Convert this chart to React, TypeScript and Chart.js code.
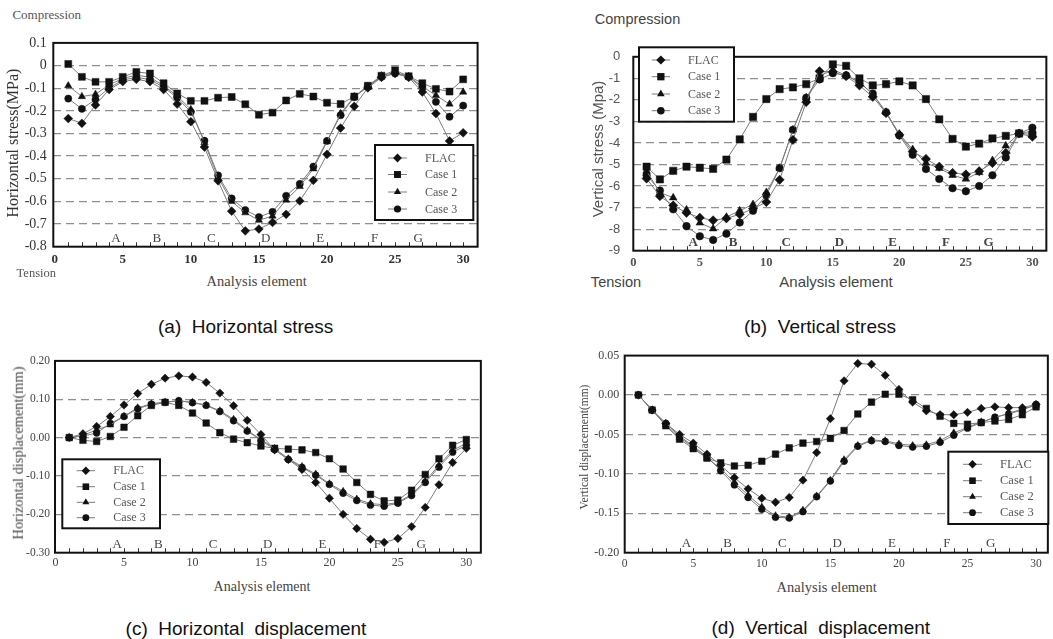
import React, { useEffect, useRef } from 'react';
import { Chart, registerables } from 'chart.js';

Chart.register(...registerables);

// ---------------- DATA ----------------
const elements = [1, 2, 3, 4, 5, 6, 7, 8, 9, 10, 11, 12, 13, 14, 15, 16, 17, 18, 19, 20, 21, 22, 23, 24, 25, 26, 27, 28, 29, 30];
const seriesNames = ['FLAC', 'Case 1', 'Case 2', 'Case 3'];
const xTickValues = [0, 5, 10, 15, 20, 25, 30];
const zoneLetters = ['A', 'B', 'C', 'D', 'E', 'F', 'G'];
const zonePositions = [4.5, 7.5, 11.5, 15.5, 19.5, 23.5, 26.7];

// (a) Horizontal stress (MPa)
const hStressFLAC = [-0.234, -0.255, -0.174, -0.106, -0.071, -0.061, -0.071, -0.106, -0.170, -0.248, -0.360, -0.509, -0.643, -0.730, -0.722, -0.693, -0.657, -0.598, -0.507, -0.392, -0.276, -0.180, -0.099, -0.052, -0.035, -0.052, -0.117, -0.212, -0.333, -0.297];
const hStressCase1 = [0.007, -0.050, -0.072, -0.072, -0.050, -0.028, -0.035, -0.078, -0.123, -0.156, -0.156, -0.142, -0.139, -0.171, -0.217, -0.208, -0.154, -0.125, -0.137, -0.164, -0.170, -0.137, -0.089, -0.045, -0.021, -0.047, -0.078, -0.103, -0.115, -0.061];
const hStressCase2 = [-0.089, -0.137, -0.127, -0.085, -0.057, -0.042, -0.052, -0.089, -0.134, -0.194, -0.340, -0.495, -0.600, -0.650, -0.683, -0.665, -0.594, -0.534, -0.456, -0.336, -0.212, -0.137, -0.095, -0.045, -0.030, -0.048, -0.092, -0.132, -0.170, -0.117];
const hStressCase3 = [-0.146, -0.191, -0.150, -0.099, -0.064, -0.052, -0.062, -0.096, -0.142, -0.205, -0.332, -0.485, -0.587, -0.638, -0.669, -0.646, -0.575, -0.523, -0.446, -0.333, -0.219, -0.140, -0.092, -0.050, -0.035, -0.050, -0.099, -0.160, -0.226, -0.177];
const hStressTicks = [0.1, 0, -0.1, -0.2, -0.3, -0.4, -0.5, -0.6, -0.7, -0.8];
const hStressTickLabels = ['0.1', '0', '-0.1', '-0.2', '-0.3', '-0.4', '-0.5', '-0.6', '-0.7', '-0.8'];

// (b) Vertical stress (MPa)
const vStressFLAC = [-5.65, -6.47, -6.90, -7.24, -7.47, -7.59, -7.50, -7.31, -7.05, -6.74, -5.71, -3.86, -2.10, -0.67, -0.70, -0.90, -1.33, -1.86, -2.61, -3.62, -4.40, -4.74, -5.10, -5.39, -5.46, -5.31, -4.93, -4.46, -3.56, -3.71];
const vStressCase1 = [-5.10, -5.69, -5.29, -5.10, -5.15, -5.20, -4.77, -3.83, -2.79, -1.96, -1.50, -1.42, -1.27, -1.00, -0.35, -0.42, -1.00, -1.33, -1.27, -1.14, -1.33, -1.96, -2.90, -3.81, -4.17, -4.03, -3.79, -3.67, -3.56, -3.60];
const vStressCase2 = [-5.30, -6.30, -6.54, -7.10, -7.71, -7.98, -7.44, -7.14, -6.85, -6.29, -5.17, -3.39, -1.90, -0.90, -0.60, -0.86, -1.15, -1.75, -2.57, -3.58, -4.30, -4.93, -5.17, -5.50, -5.67, -5.37, -4.81, -4.13, -3.56, -3.45];
const vStressCase3 = [-5.50, -6.21, -7.08, -7.86, -8.33, -8.50, -8.21, -7.69, -7.15, -6.43, -5.17, -3.39, -1.90, -1.05, -0.76, -0.86, -1.21, -1.71, -2.57, -3.65, -4.55, -5.21, -5.67, -6.10, -6.24, -6.00, -5.50, -4.67, -3.56, -3.29];
const vStressTicks = [0, -1, -2, -3, -4, -5, -6, -7, -8, -9];
const vStressTickLabels = ['0', '-1', '-2', '-3', '-4', '-5', '-6', '-7', '-8', '-9'];

// (c) Horizontal displacement (mm)
const hDispFLAC = [0, 0.010, 0.029, 0.055, 0.085, 0.115, 0.139, 0.155, 0.161, 0.158, 0.144, 0.116, 0.083, 0.045, 0.008, -0.032, -0.057, -0.083, -0.117, -0.158, -0.200, -0.237, -0.265, -0.273, -0.263, -0.232, -0.182, -0.123, -0.065, -0.028];
const hDispCase1 = [0, -0.007, -0.010, 0.003, 0.027, 0.057, 0.084, 0.092, 0.084, 0.064, 0.038, 0.013, -0.004, -0.013, -0.022, -0.028, -0.030, -0.032, -0.039, -0.055, -0.082, -0.117, -0.148, -0.165, -0.163, -0.137, -0.096, -0.055, -0.020, -0.005];
const hDispCase2 = [0, 0.006, 0.020, 0.033, 0.056, 0.078, 0.088, 0.093, 0.096, 0.092, 0.085, 0.070, 0.048, 0.019, -0.005, -0.028, -0.055, -0.075, -0.095, -0.120, -0.140, -0.160, -0.172, -0.175, -0.169, -0.148, -0.113, -0.072, -0.033, -0.015];
const hDispCase3 = [0, 0.004, 0.012, 0.037, 0.055, 0.075, 0.087, 0.092, 0.096, 0.091, 0.084, 0.068, 0.044, 0.017, -0.007, -0.031, -0.057, -0.078, -0.098, -0.122, -0.145, -0.164, -0.176, -0.179, -0.171, -0.151, -0.117, -0.077, -0.038, -0.020];
const hDispTicks = [0.2, 0.1, 0, -0.1, -0.2, -0.3];
const hDispTickLabels = ['0.20', '0.10', '0.00', '-0.10', '-0.20', '-0.30'];

// (d) Vertical displacement (mm)
const vDispFLAC = [0, -0.019, -0.036, -0.050, -0.061, -0.075, -0.089, -0.105, -0.119, -0.131, -0.136, -0.130, -0.108, -0.073, -0.030, 0.018, 0.040, 0.039, 0.025, 0.007, -0.009, -0.020, -0.025, -0.025, -0.022, -0.017, -0.015, -0.016, -0.016, -0.012];
const vDispCase1 = [0, -0.019, -0.039, -0.056, -0.068, -0.080, -0.086, -0.090, -0.089, -0.084, -0.075, -0.067, -0.061, -0.059, -0.055, -0.045, -0.024, -0.009, 0.001, 0.001, -0.006, -0.017, -0.027, -0.036, -0.037, -0.035, -0.033, -0.031, -0.025, -0.015];
const vDispCase2 = [0, -0.019, -0.038, -0.054, -0.066, -0.080, -0.093, -0.111, -0.127, -0.142, -0.153, -0.155, -0.146, -0.128, -0.108, -0.082, -0.064, -0.057, -0.058, -0.062, -0.064, -0.063, -0.058, -0.048, -0.041, -0.034, -0.029, -0.023, -0.018, -0.013];
const vDispCase3 = [0, -0.019, -0.036, -0.052, -0.065, -0.078, -0.096, -0.114, -0.130, -0.145, -0.155, -0.156, -0.148, -0.129, -0.109, -0.084, -0.065, -0.058, -0.059, -0.064, -0.066, -0.065, -0.060, -0.051, -0.042, -0.035, -0.028, -0.024, -0.019, -0.012];
const vDispTicks = [0.05, 0, -0.05, -0.1, -0.15, -0.2];
const vDispTickLabels = ['0.05', '0.00', '-0.05', '-0.10', '-0.15', '-0.20'];

// ---------------- STYLE / LAYOUT ----------------
const pointStyles = ['rectRot', 'rect', 'triangle', 'circle'];
const pointRadii = [4.4, 4.9, 4.2, 3.6];
const LINE = '#7c7c7c';
const MARK = '#111111';
const GRID = '#8e8e8e';
const SERIF = "'Liberation Serif', 'DejaVu Serif', serif";
const SANS = "'Liberation Sans', Arial, sans-serif";

type Spec = {
  id: string;
  canvas: { x: number; y: number; w: number; h: number };
  plot: { L: number; T: number; R: number; B: number };
  xMin: number; xMax: number; yMin: number; yMax: number;
  yTicks: number[]; yLabels: string[];
  series: number[][];
  yFont: any; xFont: any; tickColor: string; yPad: number; xPad: number;
  letterFont: string; letterOffset: number;
  legend: { box: number[]; rows: number[]; lineX: number[]; textX: number; font: string };
  markerScale: number;
};

const specs: Spec[] = [
  {
    id: 'a',
    canvas: { x: 5, y: 28, w: 478, h: 243 },
    plot: { L: 53.3, T: 34, R: 478, B: 246.7 },
    xMin: -0.1, xMax: 31.06, yMin: -0.8, yMax: 0.1,
    yTicks: hStressTicks, yLabels: hStressTickLabels,
    series: [hStressFLAC, hStressCase1, hStressCase2, hStressCase3],
    yFont: { family: SERIF, size: 14 }, xFont: { family: SERIF, size: 13, weight: 'bold' }, tickColor: '#333', yPad: 6.5, xPad: 4.8,
    letterFont: `13px ${SERIF}`, letterOffset: 8.4,
    legend: { box: [375, 145, 473.3, 220], rows: [158, 174.5, 192, 209], lineX: [388, 407], textX: 425, font: `12px ${SERIF}` },
    markerScale: 1,
  },
  {
    id: 'b',
    canvas: { x: 590, y: 36, w: 462, h: 236 },
    plot: { L: 633.3, T: 41.7, R: 1047.3, B: 250.7 },
    xMin: 0, xMax: 31.05, yMin: -9, yMax: 0,
    yTicks: vStressTicks, yLabels: vStressTickLabels,
    series: [vStressFLAC, vStressCase1, vStressCase2, vStressCase3],
    yFont: { family: SANS, size: 13 }, xFont: { family: SERIF, size: 12.5, weight: 'bold' }, tickColor: '#555', yPad: 13, xPad: 5,
    letterFont: `bold 13px ${SERIF}`, letterOffset: 8,
    legend: { box: [639, 47.3, 734, 121.7], rows: [60, 76.7, 94, 110.7], lineX: [651.7, 670], textX: 688, font: `12px ${SERIF}` },
    markerScale: 1.05,
  },
  {
    id: 'c',
    canvas: { x: 8, y: 349, w: 478, h: 225 },
    plot: { L: 55, T: 355, R: 481.7, B: 552.7 },
    xMin: -0.04, xMax: 31.06, yMin: -0.3, yMax: 0.2,
    yTicks: hDispTicks, yLabels: hDispTickLabels,
    series: [hDispFLAC, hDispCase1, hDispCase2, hDispCase3],
    yFont: { family: SERIF, size: 11.5 }, xFont: { family: SERIF, size: 12 }, tickColor: '#444', yPad: 5, xPad: 3.4,
    letterFont: `13px ${SERIF}`, letterOffset: 8.4,
    legend: { box: [62.3, 459.3, 160, 528.3], rows: [470.7, 486.7, 502.3, 517.7], lineX: [76.7, 95], textX: 113.3, font: `12px ${SERIF}` },
    markerScale: 0.95,
  },
  {
    id: 'd',
    canvas: { x: 578, y: 343, w: 475, h: 231 },
    plot: { L: 624.7, T: 348.5, R: 1051.5, B: 552.7 },
    xMin: 0, xMax: 30.86, yMin: -0.2, yMax: 0.05,
    yTicks: vDispTicks, yLabels: vDispTickLabels,
    series: [vDispFLAC, vDispCase1, vDispCase2, vDispCase3],
    yFont: { family: SERIF, size: 12 }, xFont: { family: SERIF, size: 11.5 }, tickColor: '#444', yPad: 5.4, xPad: 4.1,
    letterFont: `13px ${SERIF}`, letterOffset: 9,
    legend: { box: [948.3, 451.7, 1048.3, 524], rows: [464.3, 480.7, 496.7, 512.7], lineX: [963, 982], textX: 1000, font: `12.5px ${SERIF}` },
    markerScale: 0.95,
  },
];

function drawMarker(ctx: CanvasRenderingContext2D, style: string, x: number, y: number, r: number) {
  ctx.beginPath();
  if (style === 'rectRot') {
    ctx.moveTo(x - r, y); ctx.lineTo(x, y - r); ctx.lineTo(x + r, y); ctx.lineTo(x, y + r); ctx.closePath();
  } else if (style === 'rect') {
    const h = r * Math.SQRT1_2;
    ctx.rect(x - h, y - h, 2 * h, 2 * h);
  } else if (style === 'triangle') {
    const a = (2 * Math.PI) / 3;
    ctx.moveTo(x, y - r);
    ctx.lineTo(x + Math.sin(a) * r, y - Math.cos(a) * r);
    ctx.lineTo(x + Math.sin(2 * a) * r, y - Math.cos(2 * a) * r);
    ctx.closePath();
  } else {
    ctx.arc(x, y, r, 0, Math.PI * 2);
  }
  ctx.fill();
}

function framePlugin(s: Spec) {
  return {
    id: 'frame_' + s.id,
    afterDatasetsDraw(chart: any) {
      const ctx: CanvasRenderingContext2D = chart.ctx;
      const { left, top, right, bottom } = chart.chartArea;
      const xs = chart.scales.x;
      const ox = s.canvas.x;
      const oy = s.canvas.y;
      ctx.save();
      // minor ticks at every element
      ctx.strokeStyle = '#333';
      ctx.lineWidth = 1;
      elements.forEach((v) => {
        const px = Math.round(xs.getPixelForValue(v)) + 0.5;
        ctx.beginPath();
        ctx.moveTo(px, bottom);
        ctx.lineTo(px, bottom - 4.5);
        ctx.stroke();
      });
      // zone letters
      ctx.font = s.letterFont;
      ctx.fillStyle = '#444';
      ctx.textAlign = 'center';
      ctx.textBaseline = 'middle';
      zoneLetters.forEach((t, i) => {
        ctx.fillText(t, xs.getPixelForValue(zonePositions[i]), bottom - s.letterOffset);
      });
      // frame
      ctx.strokeStyle = '#111';
      ctx.lineWidth = 2;
      ctx.strokeRect(left, top, right - left, bottom - top);
      // legend
      const lg = s.legend;
      const bx = lg.box[0] - ox, by = lg.box[1] - oy, bw = lg.box[2] - lg.box[0], bh = lg.box[3] - lg.box[1];
      ctx.fillStyle = '#fff';
      ctx.fillRect(bx, by, bw, bh);
      ctx.strokeStyle = '#111';
      ctx.lineWidth = 2;
      ctx.strokeRect(bx, by, bw, bh);
      seriesNames.forEach((name, i) => {
        const ry = lg.rows[i] - oy;
        const x0 = lg.lineX[0] - ox, x1 = lg.lineX[1] - ox;
        ctx.strokeStyle = LINE;
        ctx.lineWidth = 1;
        ctx.beginPath();
        ctx.moveTo(x0, ry);
        ctx.lineTo(x1, ry);
        ctx.stroke();
        ctx.fillStyle = MARK;
        drawMarker(ctx, pointStyles[i], (x0 + x1) / 2, ry, pointRadii[i] * s.markerScale);
        ctx.fillStyle = '#555';
        ctx.font = lg.font;
        ctx.textAlign = 'left';
        ctx.textBaseline = 'middle';
        ctx.fillText(name, lg.textX - ox, ry + 0.5);
      });
      ctx.restore();
    },
  };
}

function buildConfig(s: Spec): any {
  const yW = s.plot.L - s.canvas.x;
  const xH = s.canvas.y + s.canvas.h - s.plot.B;
  const padTop = s.plot.T - s.canvas.y;
  const padRight = s.canvas.x + s.canvas.w - s.plot.R;
  const datasets = s.series.map((vals, i) => ({
    label: seriesNames[i],
    data: elements.map((x, j) => ({ x, y: vals[j] })),
    borderColor: LINE,
    borderWidth: 1,
    pointStyle: pointStyles[i],
    pointRadius: pointRadii[i] * s.markerScale,
    pointHoverRadius: pointRadii[i] * s.markerScale,
    pointBackgroundColor: MARK,
    pointBorderColor: MARK,
    pointBorderWidth: 0.5,
    tension: 0,
    fill: false,
  }));
  const labelFor = (v: number) => {
    const k = s.yTicks.findIndex((t) => Math.abs(t - v) < 1e-9);
    return k >= 0 ? s.yLabels[k] : '';
  };
  return {
    type: 'line',
    data: { datasets },
    options: {
      animation: false,
      responsive: false,
      devicePixelRatio: 1,
      events: [],
      layout: { padding: { top: padTop, right: padRight, left: 0, bottom: 0 } },
      plugins: { legend: { display: false }, tooltip: { enabled: false } },
      scales: {
        x: {
          type: 'linear',
          min: s.xMin,
          max: s.xMax,
          afterBuildTicks: (a: any) => { a.ticks = xTickValues.map((v) => ({ value: v })); },
          afterFit: (a: any) => { a.height = xH; },
          grid: { display: false, drawTicks: false },
          border: { display: false },
          ticks: { font: s.xFont, color: s.tickColor, padding: s.xPad, maxRotation: 0, autoSkip: false, callback: (v: any) => String(v) },
        },
        y: {
          type: 'linear',
          min: s.yMin,
          max: s.yMax,
          afterBuildTicks: (a: any) => { a.ticks = s.yTicks.map((v) => ({ value: v })); },
          afterFit: (a: any) => { a.width = yW; },
          grid: {
            drawTicks: false,
            lineWidth: 1.3,
            color: (c: any) => {
              const v = c.tick ? c.tick.value : NaN;
              if (Math.abs(v - s.yMin) < 1e-9 || Math.abs(v - s.yMax) < 1e-9) return 'rgba(0,0,0,0)';
              return GRID;
            },
          },
          border: { display: false, dash: [8, 5] },
          ticks: { font: s.yFont, color: s.tickColor, padding: s.yPad, autoSkip: false, callback: (v: any) => labelFor(Number(v)) },
        },
      },
    },
    plugins: [framePlugin(s)],
  };
}

function Panel({ spec }: { spec: Spec }) {
  const ref = useRef<HTMLCanvasElement>(null);
  useEffect(() => {
    const chart = new Chart(ref.current as HTMLCanvasElement, buildConfig(spec));
    return () => chart.destroy();
  }, [spec]);
  return (
    <canvas
      ref={ref}
      width={spec.canvas.w}
      height={spec.canvas.h}
      style={{ position: 'absolute', left: spec.canvas.x, top: spec.canvas.y, width: spec.canvas.w, height: spec.canvas.h }}
    />
  );
}

type Txt = { t: string; x: number; y: number; font: string; color: string; rot?: boolean };

const texts: Txt[] = [
  // (a)
  { t: 'Compression', x: 46.7, y: 14, font: `13px ${SERIF}`, color: '#555' },
  { t: 'Tension', x: 36.3, y: 273, font: `12.5px ${SERIF}`, color: '#555' },
  { t: 'Horizontal stress(MPa)', x: 13.3, y: 142.5, font: `16px ${SERIF}`, color: '#333', rot: true },
  { t: 'Analysis element', x: 256.7, y: 281.3, font: `14.5px ${SERIF}`, color: '#444' },
  { t: '(a)  Horizontal stress', x: 245.7, y: 326, font: `19px ${SANS}`, color: '#111' },
  // (b)
  { t: 'Compression', x: 637.5, y: 19.3, font: `14.5px ${SANS}`, color: '#444' },
  { t: 'Tension', x: 616, y: 281.7, font: `14.6px ${SANS}`, color: '#444' },
  { t: 'Vertical stress (Mpa)', x: 597, y: 149, font: `15px ${SANS}`, color: '#555', rot: true },
  { t: 'Analysis element', x: 836, y: 281, font: `15px ${SANS}`, color: '#444' },
  { t: '(b)  Vertical stress', x: 820, y: 326, font: `19px ${SANS}`, color: '#111' },
  // (c)
  { t: 'Horizontal displacement(mm)', x: 18.3, y: 453.3, font: `14.4px ${SERIF}`, color: '#444', rot: true },
  { t: 'Analysis element', x: 262, y: 586.7, font: `14px ${SERIF}`, color: '#444' },
  { t: '(c)  Horizontal  displacement', x: 246, y: 628.3, font: `19px ${SANS}`, color: '#111' },
  // (d)
  { t: 'Vertical displacement(mm)', x: 585, y: 446.7, font: `11.5px ${SERIF}`, color: '#444', rot: true },
  { t: 'Analysis element', x: 826.7, y: 587.3, font: `14.5px ${SERIF}`, color: '#444' },
  { t: '(d)  Vertical  displacement', x: 820.8, y: 626.7, font: `19px ${SANS}`, color: '#111' },
];

export default function App() {
  return (
    <div style={{ position: 'absolute', left: 0, top: 0, width: 1053, height: 639, background: '#fff', overflow: 'hidden' }}>
      {specs.map((s) => (
        <Panel key={s.id} spec={s} />
      ))}
      {texts.map((d, i) => (
        <div
          key={i}
          style={{
            position: 'absolute',
            left: d.x,
            top: d.y,
            transform: `translate(-50%, -50%)${d.rot ? ' rotate(-90deg)' : ''}`,
            font: d.font,
            color: d.color,
            whiteSpace: 'pre',
            lineHeight: 1,
          }}
        >
          {d.t}
        </div>
      ))}
    </div>
  );
}
